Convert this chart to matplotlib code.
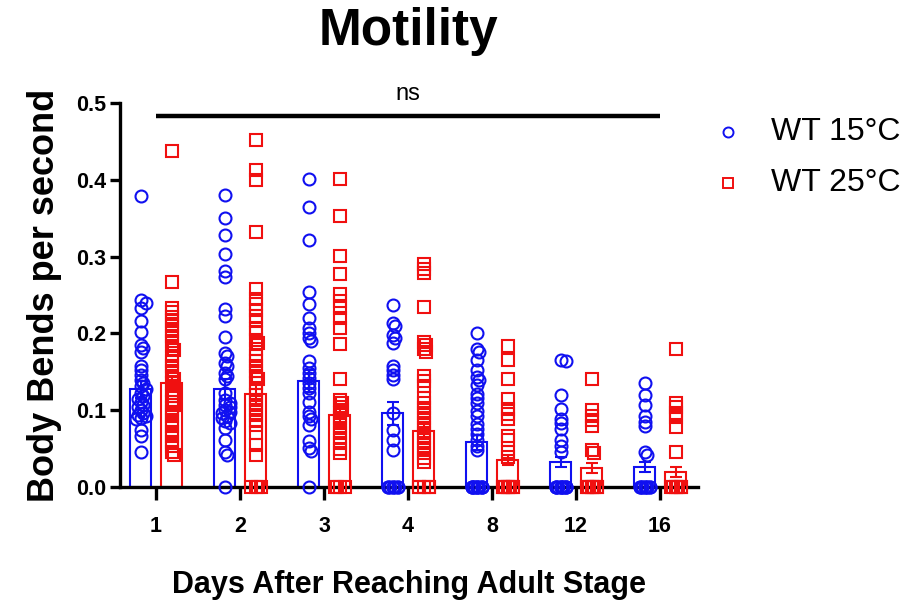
import numpy as np
import matplotlib
matplotlib.use("Agg")
import matplotlib.pyplot as plt
from matplotlib.lines import Line2D

plt.rcParams['font.family'] = ['Liberation Sans', 'DejaVu Sans']

# ---------------- data ----------------
days = ["1", "2", "3", "4", "8", "12", "16"]
series_names = ["WT 15°C", "WT 25°C"]

mean_15 = [0.127, 0.127, 0.138, 0.096, 0.058, 0.033, 0.026]
sem_15 = [0.011, 0.013, 0.014, 0.015, 0.010, 0.0065, 0.007]
mean_25 = [0.135, 0.121, 0.094, 0.073, 0.035, 0.025, 0.020]
sem_25 = [0.010, 0.013, 0.013, 0.011, 0.0065, 0.0065, 0.0065]

pts_15 = [
    [0.379, 0.243, 0.240, 0.233, 0.216, 0.202, 0.185, 0.181, 0.176, 0.157, 0.152,
     0.146, 0.139, 0.135, 0.131, 0.128, 0.122, 0.118, 0.115, 0.111, 0.107, 0.104,
     0.100, 0.096, 0.094, 0.092, 0.090, 0.088, 0.074, 0.066, 0.046],
    [0.380, 0.350, 0.328, 0.304, 0.281, 0.273, 0.232, 0.223, 0.195, 0.175, 0.171,
     0.161, 0.157, 0.148, 0.144, 0.140, 0.122, 0.113, 0.110, 0.107, 0.104, 0.100,
     0.098, 0.096, 0.093, 0.090, 0.086, 0.083, 0.077, 0.061, 0.046, 0.042, 0.0],
    [0.401, 0.364, 0.321, 0.254, 0.238, 0.220, 0.207, 0.200, 0.194, 0.190, 0.164,
     0.155, 0.148, 0.142, 0.135, 0.129, 0.122, 0.111, 0.098, 0.092, 0.088, 0.081,
     0.060, 0.051, 0.047, 0.0],
    [0.237, 0.213, 0.209, 0.198, 0.194, 0.188, 0.158, 0.152, 0.146, 0.140, 0.096,
     0.074, 0.061, 0.048, 0.0, 0.0, 0.0, 0.0, 0.0, 0.0, 0.0, 0.0],
    [0.200, 0.180, 0.176, 0.165, 0.152, 0.143, 0.139, 0.133, 0.121, 0.116, 0.110,
     0.099, 0.093, 0.082, 0.076, 0.069, 0.061, 0.054, 0.048, 0.0, 0.0, 0.0, 0.0,
     0.0, 0.0, 0.0, 0.0, 0.0, 0.0, 0.0, 0.0],
    [0.166, 0.164, 0.120, 0.102, 0.089, 0.083, 0.076, 0.061, 0.054, 0.046, 0.0,
     0.0, 0.0, 0.0, 0.0, 0.0, 0.0, 0.0, 0.0, 0.0, 0.0, 0.0],
    [0.136, 0.120, 0.107, 0.092, 0.085, 0.079, 0.046, 0.042, 0.0, 0.0, 0.0, 0.0,
     0.0, 0.0, 0.0, 0.0, 0.0, 0.0],
]

pts_25 = [
    [0.437, 0.267, 0.233, 0.228, 0.222, 0.216, 0.209, 0.203, 0.196, 0.190, 0.183,
     0.179, 0.170, 0.164, 0.157, 0.151, 0.144, 0.140, 0.135, 0.131, 0.126, 0.122,
     0.118, 0.111, 0.107, 0.103, 0.098, 0.092, 0.085, 0.079, 0.072, 0.066, 0.059,
     0.053, 0.046, 0.042],
    [0.452, 0.413, 0.400, 0.332, 0.258, 0.245, 0.238, 0.230, 0.223, 0.217, 0.206,
     0.200, 0.191, 0.187, 0.180, 0.170, 0.164, 0.157, 0.151, 0.144, 0.140, 0.135,
     0.126, 0.120, 0.113, 0.107, 0.100, 0.094, 0.087, 0.081, 0.070, 0.055, 0.042,
     0.0, 0.0, 0.0, 0.0],
    [0.401, 0.353, 0.301, 0.277, 0.251, 0.242, 0.233, 0.220, 0.207, 0.186, 0.141,
     0.113, 0.109, 0.104, 0.100, 0.096, 0.090, 0.083, 0.077, 0.070, 0.064, 0.057,
     0.049, 0.044, 0.0, 0.0, 0.0, 0.0],
    [0.291, 0.284, 0.278, 0.235, 0.189, 0.185, 0.180, 0.176, 0.144, 0.138, 0.131,
     0.116, 0.109, 0.103, 0.096, 0.090, 0.083, 0.077, 0.070, 0.064, 0.057, 0.051,
     0.044, 0.038, 0.033, 0.0, 0.0, 0.0, 0.0, 0.0],
    [0.183, 0.165, 0.141, 0.115, 0.102, 0.095, 0.089, 0.067, 0.061, 0.046, 0.039,
     0.0, 0.0, 0.0, 0.0, 0.0, 0.0, 0.0, 0.0],
    [0.141, 0.100, 0.093, 0.087, 0.080, 0.048, 0.044, 0.0, 0.0, 0.0, 0.0, 0.0,
     0.0, 0.0, 0.0],
    [0.180, 0.110, 0.104, 0.097, 0.091, 0.078, 0.046, 0.0, 0.0, 0.0, 0.0, 0.0,
     0.0, 0.0],
]

sig_label = "ns"

# ---------------- layout ----------------
W, H = 903, 601
fig = plt.figure(figsize=(W / 100, H / 100), dpi=100)
ax_l, ax_r, ax_t, ax_b = 120, 698, 103, 487
ax = fig.add_axes([ax_l / W, 1 - ax_b / H, (ax_r - ax_l) / W, (ax_b - ax_t) / H])

BLUE = "#1010F0"
RED = "#F01010"
x = np.arange(len(days))
off = 0.18
bw = 0.25
xmin, xmax = -0.4286, 6.452
px_x = (ax_r - ax_l) / (xmax - xmin)
px_y = (ax_b - ax_t) / 0.5
MS_C = 8.6
MS_S = 8.2


def swarm(vals, center):
    placed = []
    xs = []
    step = 2.5  # px
    order = [0, 1, -1, 2, -2]
    for v in vals:
        best = None
        for k in order:
            dx = k * step
            ok = True
            for (px, py) in placed:
                if np.hypot(px - dx, (py - v) * px_y) < 3.5:
                    ok = False
                    break
            if ok:
                best = dx
                break
        if best is None:
            best = order[len(placed) % len(order)] * step
        placed.append((best, v))
        xs.append(center + best / px_x)
    return xs


for i in range(len(days)):
    for (means, sems, pts, col, sgn, mk) in [
            (mean_15, sem_15, pts_15, BLUE, -1, 'o'),
            (mean_25, sem_25, pts_25, RED, 1, 's')]:
        cx = x[i] + sgn * off + (0.01 if sgn > 0 else 0)
        ax.bar(cx, means[i], width=bw, facecolor='none', edgecolor=col,
               linewidth=1.5, zorder=2)
        ax.errorbar(cx, means[i], yerr=sems[i], color=col, capsize=4,
                    elinewidth=1.5, capthick=1.5, zorder=3, fmt='none')
        vals = sorted(pts[i], reverse=True)
        xs = swarm(vals, cx)
        ax.plot(xs, vals, linestyle='none', marker=mk,
                markersize=MS_C if mk == 'o' else MS_S,
                markerfacecolor='none', markeredgecolor=col, markeredgewidth=1.5,
                clip_on=False, zorder=4)

ax.set_xlim(xmin, xmax)
ax.set_ylim(0, 0.5)
ax.set_yticks([0, 0.1, 0.2, 0.3, 0.4, 0.5])
ax.set_yticklabels(["0.0", "0.1", "0.2", "0.3", "0.4", "0.5"])
ax.set_xticks(x)
ax.set_xticklabels(days)
for s in ['top', 'right']:
    ax.spines[s].set_visible(False)
for s in ['left', 'bottom']:
    ax.spines[s].set_linewidth(2.4)
ax.tick_params(axis='y', length=7, width=2.4, labelsize=15.5, pad=3)
ax.tick_params(axis='x', length=9, width=2.4, labelsize=15.5, pad=12)
for lab in ax.get_xticklabels() + ax.get_yticklabels():
    lab.set_fontweight('bold')

# significance line
ax.plot([x[0], x[-1]], [0.483, 0.483], color='black', linewidth=3.2,
        solid_capstyle='butt', clip_on=False, zorder=5)
ax.text((x[0] + x[-1]) / 2, 0.498, sig_label, ha='center', va='bottom', fontsize=17)

ax.set_ylabel("Body Bends per second", fontsize=26, fontweight='bold', labelpad=10)
ax.set_xlabel("Days After Reaching Adult Stage", fontsize=22, fontweight='bold', labelpad=24)
fig.text(409 / W, 1 - 31 / H, "Motility", ha='center', va='center', fontsize=37,
         fontweight='bold')

# legend
for j, (name, col, mk) in enumerate([(series_names[0], BLUE, 'o'), (series_names[1], RED, 's')]):
    yy = 1 - (132 + j * 51) / H
    fig.add_artist(Line2D([728 / W], [yy], transform=fig.transFigure, marker=mk,
                          markersize=7.2 if mk == 'o' else 7.0, markerfacecolor='none',
                          markeredgecolor=col, markeredgewidth=1.4, linestyle='none'))
    fig.text(771 / W, yy, name, ha='left', va='center', fontsize=23)

fig.savefig("out.png", dpi=100)
